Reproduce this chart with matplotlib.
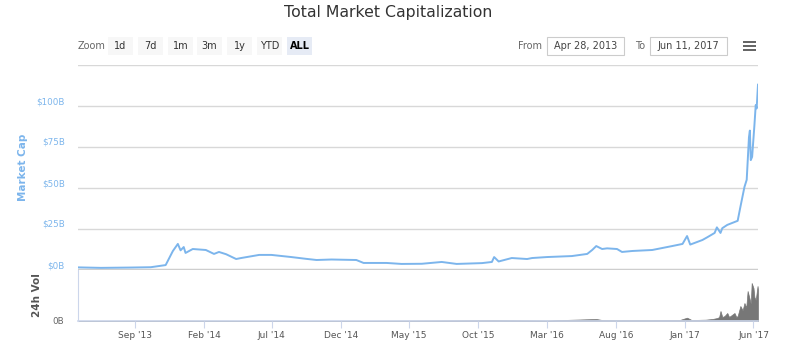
import numpy as np, matplotlib
matplotlib.use('Agg')
import matplotlib.pyplot as plt
import matplotlib.dates as mdates
from matplotlib.patches import Rectangle
import pandas as pd

# market cap, billions of USD
cap_dates = ['2013-04-28', '2013-06-18', '2013-08-23', '2013-10-06', '2013-11-08',
             '2013-11-24', '2013-12-05', '2013-12-11', '2013-12-18', '2013-12-22',
             '2014-01-07', '2014-02-05', '2014-02-23', '2014-03-06', '2014-03-22',
             '2014-04-13', '2014-04-24', '2014-06-03', '2014-06-30', '2014-08-13',
             '2014-09-15', '2014-10-08', '2014-11-10', '2015-01-04', '2015-01-20',
             '2015-03-12', '2015-04-14', '2015-05-29', '2015-07-12', '2015-08-14',
             '2015-10-09', '2015-10-31', '2015-11-05', '2015-11-15', '2015-12-14',
             '2016-01-17', '2016-01-28', '2016-03-01', '2016-04-25', '2016-05-29',
             '2016-06-09', '2016-06-18', '2016-07-01', '2016-07-12', '2016-08-03',
             '2016-08-14', '2016-09-06', '2016-10-20', '2016-12-03', '2016-12-26',
             '2017-01-05', '2017-01-12', '2017-02-08', '2017-02-19', '2017-03-07',
             '2017-03-12', '2017-03-20', '2017-03-24', '2017-04-04', '2017-04-27',
             '2017-05-03', '2017-05-12', '2017-05-17', '2017-05-22', '2017-05-24',
             '2017-05-26', '2017-05-29', '2017-06-03', '2017-06-06', '2017-06-08',
             '2017-06-11']
cap_values = [1.6, 1.3, 1.5, 1.7, 3.0,
              11.6, 15.9, 12.0, 14.0, 10.4,
              12.8, 12.2, 9.8, 11.0, 9.6,
              6.7, 7.3, 9.2, 9.2, 7.9,
              6.8, 6.1, 6.4, 6.1, 4.3,
              4.3, 3.7, 3.8, 4.9, 3.7,
              4.2, 4.9, 7.9, 5.2, 7.3,
              6.7, 7.3, 7.9, 8.5, 9.8,
              12.2, 14.6, 12.8, 13.2, 12.8,
              11.0, 11.6, 12.2, 14.6, 15.9,
              20.7, 15.5, 18.3, 20.0, 22.6,
              26.0, 22.6, 25.5, 27.5, 30.0,
              38.4, 50.6, 55.0, 81.0, 85.0,
              67.0, 69.0, 88.0, 100.6, 98.5,
              113.0]

# 24h volume, billions of USD
vol_dates = ['2013-04-28', '2013-12-05', '2014-06-01', '2015-01-15', '2015-11-05',
             '2016-03-01', '2016-06-18', '2016-07-01', '2016-08-01', '2016-12-20',
             '2017-01-05', '2017-01-15', '2017-02-15', '2017-03-02', '2017-03-13',
             '2017-03-17', '2017-03-20', '2017-03-24', '2017-03-29', '2017-04-04',
             '2017-04-08', '2017-04-11', '2017-04-20', '2017-04-24', '2017-04-27',
             '2017-05-03', '2017-05-08', '2017-05-12', '2017-05-16', '2017-05-19',
             '2017-05-23', '2017-05-26', '2017-05-28', '2017-06-01', '2017-06-03',
             '2017-06-06', '2017-06-08', '2017-06-10', '2017-06-11']
vol_values = [0.02, 0.06, 0.03, 0.03, 0.12,
              0.08, 0.3, 0.15, 0.12, 0.15,
              0.5, 0.15, 0.2, 0.3, 0.45,
              0.6, 1.5, 0.6, 0.75, 1.2,
              0.6, 0.75, 1.2, 0.6, 0.75,
              2.25, 1.6, 2.7, 2.0, 4.5,
              3.45, 2.6, 5.7, 4.95, 3.6,
              3.15, 4.2, 5.25, 4.65]

x_ticks = ['2013-09-01', '2014-02-01', '2014-07-01', '2014-12-01', '2015-05-01',
           '2015-10-01', '2016-03-01', '2016-08-01', '2017-01-01', '2017-06-01']
x_ticklabels = ["Sep '13", "Feb '14", "Jul '14", "Dec '14", "May '15",
                "Oct '15", "Mar '16", "Aug '16", "Jan '17", "Jun '17"]
y_ticks = [0, 25, 50, 75, 100, 125]
y_ticklabels = ['$0B', '$25B', '$50B', '$75B', '$100B', '']
zoom_buttons = ['1d', '7d', '1m', '3m', '1y', 'YTD', 'ALL']

W, H = 800, 356
blue = '#7cb5ec'
fig = plt.figure(figsize=(W / 100, H / 100), dpi=100)


def fx(x):
    return x / W


def fy(y):
    return 1 - y / H


def box(x0, y0, x1, y1, fc, ec='none'):
    fig.patches.append(Rectangle((fx(x0), fy(y1)), fx(x1 - x0), (y1 - y0) / H,
                                 transform=fig.transFigure, facecolor=fc,
                                 edgecolor=ec, lw=0.8))


cd = pd.to_datetime(cap_dates)
vd = pd.to_datetime(vol_dates)
xlo, xhi = pd.Timestamp('2013-04-28'), pd.Timestamp('2017-06-11')

# main pane
ax = fig.add_axes([fx(78), fy(270), fx(680), 205 / H])
ax.plot(cd, cap_values, color=blue, lw=1.4)
ax.set_xlim(xlo, xhi)
ax.set_ylim(0, 125)
ax.set_yticks(y_ticks)
ax.set_yticklabels(y_ticklabels)
ax.grid(axis='y', color='#d8d8d8', lw=1)
ax.set_xticks([])
for s in ax.spines.values():
    s.set_visible(False)
ax.axhline(0, color='#cccccc', lw=2.5, zorder=1)
ax.tick_params(axis='y', length=0, pad=9.5, labelsize=6.3, labelcolor=blue)
for lab in ax.get_yticklabels():
    lab.set_verticalalignment('bottom')
ax.set_ylabel('Market Cap', color=blue, fontsize=7.5, fontweight='bold')
ax.yaxis.set_label_coords((28 - 78) / 680, 0.5)

# volume pane
av = fig.add_axes([fx(78), fy(321), fx(680), 51 / H])
av.fill_between(vd, vol_values, color='#777777', lw=0.5)
av.set_xlim(xlo, xhi)
av.set_ylim(0, 7.65)
av.set_yticks([0])
av.set_yticklabels(['0B'])
for s in ['top', 'right']:
    av.spines[s].set_visible(False)
av.spines['left'].set_color('#ccd6eb')
av.spines['bottom'].set_color('#ccd6eb')
av.spines['bottom'].set_linewidth(1.2)
av.tick_params(axis='y', length=0, pad=10, labelsize=6.3, labelcolor='#666666')
av.set_xticks(pd.to_datetime(x_ticks))
av.set_xticklabels(x_ticklabels)
av.tick_params(axis='x', length=5, color='#ccd6eb', labelsize=6.5,
               labelcolor='#555555', pad=2)
av.set_ylabel('24h Vol', color='#555555', fontsize=7.5, fontweight='bold')
av.yaxis.set_label_coords((42 - 78) / 680, 0.5)

# title
fig.text(fx(388), fy(12), 'Total Market Capitalization', ha='center', va='center',
         fontsize=11.3, color='#333333')

# range selector
fig.text(fx(78), fy(46), 'Zoom', ha='left', va='center', fontsize=7, color='#666666')
bx = [108, 138, 168, 197, 227, 257, 287]
for lab, x0 in zip(zoom_buttons, bx):
    sel = lab == 'ALL'
    box(x0, 37, x0 + 25, 55, '#e6ebf5' if sel else '#f7f7f7')
    fig.text(fx(x0 + 12.5), fy(46), lab, ha='center', va='center', fontsize=7,
             color='#000000' if sel else '#333333',
             fontweight='bold' if sel else 'normal')

fig.text(fx(542), fy(46), 'From', ha='right', va='center', fontsize=7, color='#666666')
box(547, 37, 624, 55, 'white', '#cccccc')
fig.text(fx(585.5), fy(46), 'Apr 28, 2013', ha='center', va='center', fontsize=7,
         color='#444444')
fig.text(fx(645), fy(46), 'To', ha='right', va='center', fontsize=7, color='#666666')
box(650, 37, 727, 55, 'white', '#cccccc')
fig.text(fx(688.5), fy(46), 'Jun 11, 2017', ha='center', va='center', fontsize=7,
         color='#444444')
for yy in [41, 45, 49]:
    box(743, yy, 756, yy + 2, '#666666')

fig.savefig('out.png', dpi=100, facecolor='white')
